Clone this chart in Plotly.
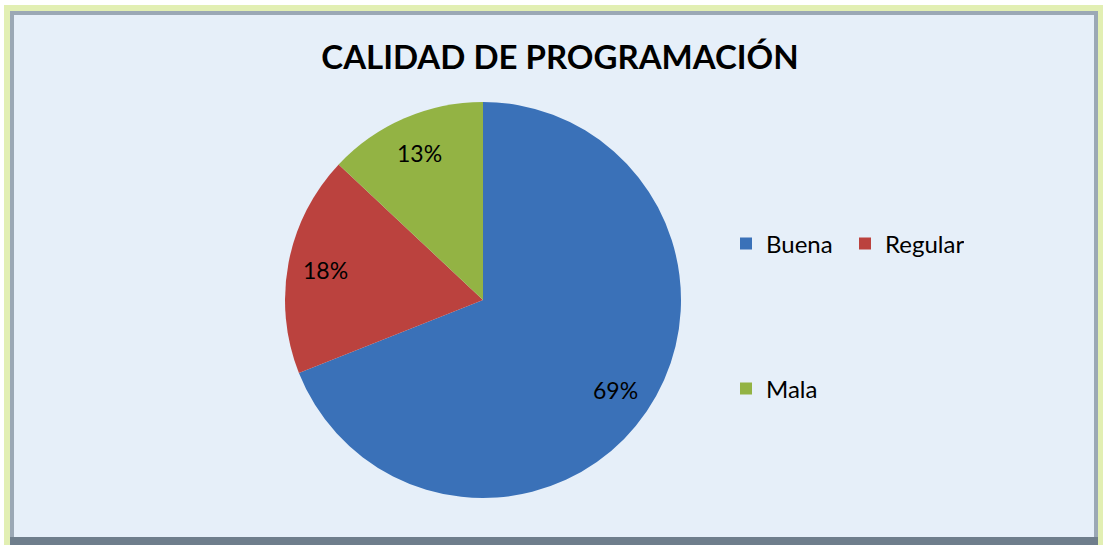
import math
import plotly.graph_objects as go

# data
categories = ["Buena", "Regular", "Mala"]
percentages = [69, 18, 13]
slice_colors = ["#3a71b8", "#bb423e", "#93b344"]

W, H = 1103, 545

# pie centre and radius in pixels
CX, CY, R = 483, 300, 198
LABEL_R = 0.81  # Excel "best fit" labels sit about 0.8 R out


def px_x(v):
    return v / W


def px_y(v):
    return 1 - v / H


fig = go.Figure()

fig.add_trace(go.Pie(
    labels=categories,
    values=percentages,
    marker=dict(colors=slice_colors, line=dict(width=0)),
    sort=False,
    direction="clockwise",
    rotation=0,
    textinfo="none",
    domain=dict(x=[px_x(CX - R), px_x(CX + R)], y=[px_y(CY + R), px_y(CY - R)]),
    showlegend=False,
    hoverinfo="label+percent",
))

# legend entries: Buena + Regular on one row, Mala on its own further down.
# a pie trace can only feed one legend, so these are tiny pies used only for
# their legend keys
for idx, leg in [([0, 1], "legend"), ([2], "legend2")]:
    fig.add_trace(go.Pie(
        labels=[categories[i] for i in idx],
        values=[percentages[i] for i in idx],
        marker=dict(colors=[slice_colors[i] for i in idx], line=dict(width=0)),
        sort=False,
        textinfo="none",
        domain=dict(x=[0, 0.00001], y=[0, 0.00001]),
        hoverinfo="skip",
        legend=leg,
    ))

# percent labels on each slice bisector
annotations = []
total = sum(percentages)
start = 0.0
for val in percentages:
    mid = start + val / total * 180.0
    ang = math.radians(mid)
    lx = CX + LABEL_R * R * math.sin(ang)
    ly = CY - LABEL_R * R * math.cos(ang)
    annotations.append(dict(
        text=f"{round(val / total * 100)}%",
        x=px_x(lx), y=px_y(ly), xref="paper", yref="paper",
        xanchor="center", yanchor="middle", showarrow=False,
        font=dict(family="Lato", size=23, color="#000000"),
    ))
    start += val / total * 360.0

# frame: light green outer edge, grey bevel, pale blue chart area
shapes = [
    dict(type="rect", xref="paper", yref="paper", layer="below",
         x0=px_x(4), x1=1, y0=0, y1=px_y(5),
         fillcolor="#e2efb3", line=dict(width=0)),
    dict(type="rect", xref="paper", yref="paper", layer="below",
         x0=px_x(10), x1=px_x(1098), y0=0, y1=px_y(11),
         fillcolor="#9ba8b5", line=dict(width=0)),
    dict(type="rect", xref="paper", yref="paper", layer="below",
         x0=px_x(10), x1=px_x(1098), y0=0, y1=px_y(537),
         fillcolor="#6f7e8c", line=dict(width=0)),
    dict(type="rect", xref="paper", yref="paper", layer="below",
         x0=px_x(14), x1=px_x(1094), y0=px_y(537), y1=px_y(15),
         fillcolor="#e6eff9", line=dict(width=0)),
]

legend_font = dict(family="Lato", size=24, color="#000000")

fig.update_layout(
    width=W,
    height=H,
    margin=dict(l=0, r=0, t=0, b=0),
    paper_bgcolor="#ffffff",
    plot_bgcolor="rgba(0,0,0,0)",
    shapes=shapes,
    annotations=annotations,
    title=dict(
        text="<b>CALIDAD DE PROGRAMACIÓN</b>",
        x=px_x(560), xanchor="center",
        y=px_y(57), yanchor="middle",
        font=dict(family="Lato", size=33, color="#000000"),
    ),
    legend=dict(
        orientation="h",
        x=px_x(726), xanchor="left",
        y=px_y(244), yanchor="middle",
        entrywidth=74,
        bgcolor="rgba(0,0,0,0)",
        font=legend_font,
    ),
    legend2=dict(
        orientation="h",
        x=px_x(726), xanchor="left",
        y=px_y(389), yanchor="middle",
        bgcolor="rgba(0,0,0,0)",
        font=legend_font,
    ),
)

fig.write_html(
    "out.html",
    config={"displayModeBar": False},
    post_script="document.body.style.margin='0';",
)
